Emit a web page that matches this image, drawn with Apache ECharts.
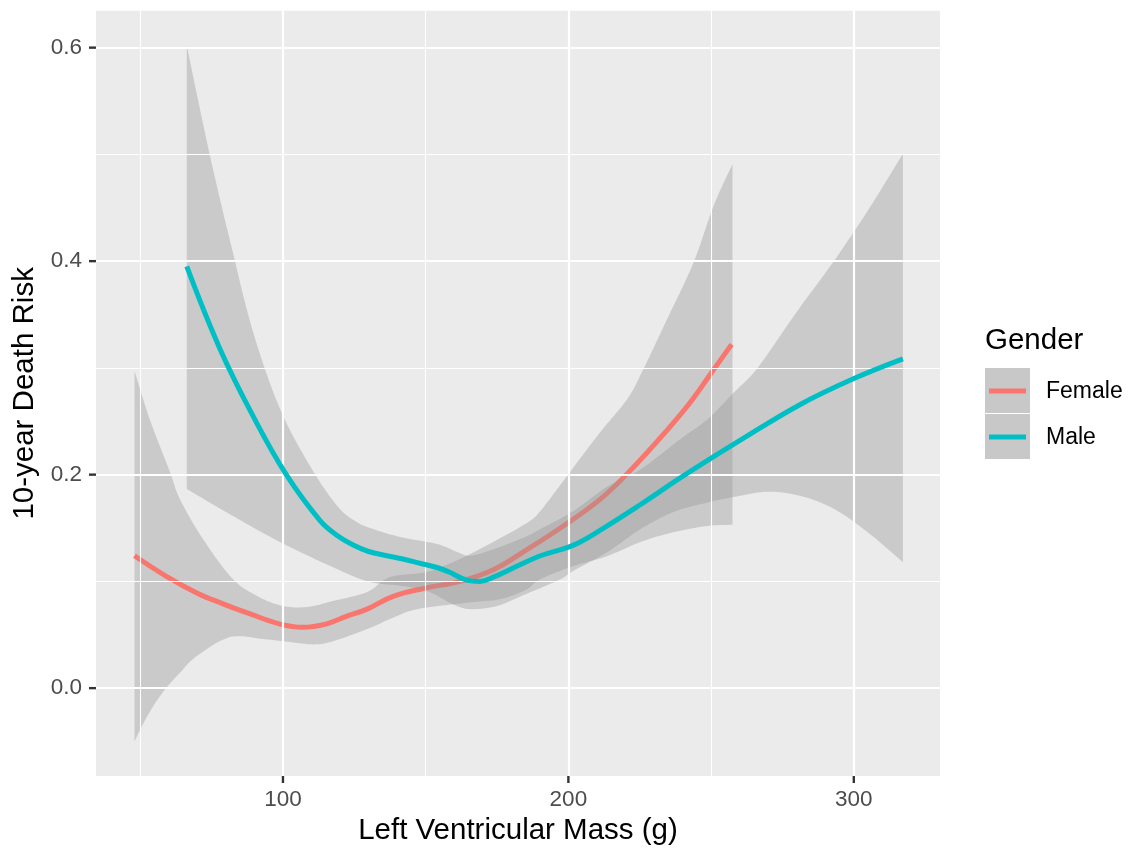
<!DOCTYPE html>
<html><head><meta charset="utf-8">
<script src="https://cdn.jsdelivr.net/npm/echarts@6/dist/echarts.min.js"></script>
<style>html,body{margin:0;padding:0;background:#fff}#c{width:1130px;height:853px}</style>
</head><body><div id="c"></div>
<script>
// ---- data ----
const xTicks = [100, 200, 300];
const xMinor = [50, 150, 250];
const yTicks = [0, 0.2, 0.4, 0.6];
const yMinor = [0.1, 0.3, 0.5];
const groups = ['Female', 'Male'];

const femaleLine = [[48,0.124],[59,0.105],[70,0.089],[79,0.079],[88,0.070],[99,0.060],[107,0.057],[115,0.060],[122,0.067],[129.5,0.074],[138.6,0.086],[150.5,0.094],[162,0.100],[173.7,0.111],[185.6,0.130],[197.2,0.150],[211.2,0.177],[222.8,0.207],[234.7,0.242],[242.8,0.268],[250,0.295],[257.2,0.322]];
const femaleUpper = [[48,0.297],[53.3,0.252],[60.4,0.2025],[63.9,0.177],[71.9,0.140],[82.5,0.102],[91.9,0.085],[100,0.077],[108.4,0.076],[117.5,0.0816],[129.5,0.090],[137.5,0.104],[150.6,0.109],[162,0.121],[173.7,0.137],[185.6,0.155],[190.2,0.166],[199.6,0.199],[211.2,0.240],[220.7,0.271],[226.3,0.299],[235,0.348],[243.9,0.399],[250.9,0.452],[257.5,0.491]];
const femaleLower = [[48,-0.0497],[52.5,-0.026],[57.9,-0.0038],[64.1,0.015],[69.8,0.030],[81.4,0.0478],[93,0.046],[100,0.044],[110.5,0.041],[117.5,0.044],[129.5,0.0553],[137.5,0.0647],[147,0.074],[164.6,0.080],[176.1,0.0834],[185,0.092],[190.2,0.102],[201.8,0.1144],[213.7,0.1238],[225.3,0.137],[236.8,0.146],[248.8,0.152],[257.5,0.153]];

const maleLine = [[66.3,0.395],[77.9,0.318],[89.5,0.255],[101.4,0.199],[113,0.157],[119,0.143],[124.6,0.134],[130,0.128],[136.5,0.124],[142,0.121],[148,0.117],[154,0.113],[158,0.109],[164.6,0.101],[169,0.100],[173.7,0.104],[182.1,0.1144],[190.2,0.124],[201.8,0.134],[211.2,0.148],[225.3,0.172],[240.4,0.199],[260.1,0.232],[281.4,0.266],[300,0.290],[317.2,0.3085]];
const maleUpper = [[66.3,0.602],[74.4,0.499],[82.1,0.412],[89.5,0.334],[98.9,0.262],[109.5,0.208],[118.9,0.171],[125,0.157],[130.5,0.150],[141.1,0.1416],[154,0.135],[161.1,0.1275],[165.6,0.124],[173.7,0.130],[185.6,0.1425],[190.2,0.149],[201.8,0.166],[213.7,0.189],[225.3,0.205],[239.3,0.2335],[248.8,0.252],[257.5,0.2757],[266.3,0.300],[279.6,0.351],[293,0.400],[305.3,0.449],[317.2,0.5007]];
const maleLower = [[66.3,0.1866],[82,0.162],[98.9,0.137],[118.9,0.1116],[130.5,0.0994],[141,0.096],[150.5,0.091],[160,0.078],[166,0.074],[175,0.077],[185,0.088],[197.2,0.102],[201.8,0.110],[213.7,0.1275],[225.3,0.149],[236.8,0.165],[248.8,0.174],[257.9,0.179],[269.8,0.184],[281.4,0.180],[293,0.168],[304.9,0.146],[317.2,0.118]];

// ---- chart ----
const FONT = "'Liberation Sans', Arial, Helvetica, sans-serif";
const colors = {Female: '#F8766D', Male: '#00BFC4'};
const bandFill = 'rgba(153,153,153,0.4)';
const X_MIN = 34.5, X_MAX = 330.2, Y_MIN = -0.0823, Y_MAX = 0.6346;

// Catmull-Rom smoothing of already-projected pixel points (rendering only)
function smoothPx(pts, n) {
  const out = [];
  for (let i = 0; i < pts.length - 1; i++) {
    const p0 = pts[i - 1] || pts[i], p1 = pts[i], p2 = pts[i + 1], p3 = pts[i + 2] || pts[i + 1];
    for (let k = 0; k < n; k++) {
      const t = k / n, t2 = t * t, t3 = t2 * t;
      out.push([0, 1].map(d => 0.5 * ((2 * p1[d]) + (-p0[d] + p2[d]) * t +
        (2 * p0[d] - 5 * p1[d] + 4 * p2[d] - p3[d]) * t2 + (-p0[d] + 3 * p1[d] - 3 * p2[d] + p3[d]) * t3)));
    }
  }
  out.push(pts[pts.length - 1]);
  return out;
}

function bandSeries(upper, lower, z) {
  return {
    type: 'custom', z: z, silent: true, animation: false,
    data: upper.concat(lower),
    renderItem: function (params, api) {
      if (params.dataIndexInside !== 0) return null;
      const up = smoothPx(upper.map(p => api.coord(p)), 10);
      const lo = smoothPx(lower.map(p => api.coord(p)), 10).reverse();
      return {type: 'polygon', shape: {points: up.concat(lo)}, style: {fill: bandFill}};
    }
  };
}
function lineSeries(name, data, z) {
  return {
    name: name, type: 'line', data: data, z: z, smooth: 0.4,
    showSymbol: false, silent: true, animation: false,
    lineStyle: {color: colors[name], width: 5}
  };
}

const gridLines = [].concat(
  xMinor.map(v => ({xAxis: v, lineStyle: {width: 1.1}})),
  xTicks.map(v => ({xAxis: v, lineStyle: {width: 2.2}})),
  yMinor.map(v => ({yAxis: v, lineStyle: {width: 1.1}})),
  yTicks.map(v => ({yAxis: v, lineStyle: {width: 2.2}}))
);

const legendGraphics = [
  {type: 'text', x: 985, y: 341, style: {text: 'Gender', fontSize: 29.5, fontFamily: FONT, fill: '#000', align: 'left', verticalAlign: 'middle'}},
  {type: 'rect', shape: {x: 985, y: 368, width: 45, height: 45}, style: {fill: '#C8C8C8'}},
  {type: 'rect', shape: {x: 985, y: 414, width: 45, height: 45}, style: {fill: '#C8C8C8'}},
  {type: 'line', shape: {x1: 989, y1: 391, x2: 1026, y2: 391}, style: {stroke: colors.Female, lineWidth: 5}},
  {type: 'line', shape: {x1: 989, y1: 437, x2: 1026, y2: 437}, style: {stroke: colors.Male, lineWidth: 5}},
  {type: 'text', x: 1046, y: 392, style: {text: groups[0], fontSize: 23, fontFamily: FONT, fill: '#000', align: 'left', verticalAlign: 'middle'}},
  {type: 'text', x: 1046, y: 438, style: {text: groups[1], fontSize: 23, fontFamily: FONT, fill: '#000', align: 'left', verticalAlign: 'middle'}}
];

const chart = echarts.init(document.getElementById('c'), null, {renderer: 'canvas'});
chart.setOption({
  animation: false,
  textStyle: {fontFamily: FONT},
  grid: {left: 96, top: 10.7, width: 844, height: 765.3, show: true, backgroundColor: '#EBEBEB', borderWidth: 0},
  xAxis: {
    type: 'value', min: X_MIN, max: X_MAX, position: 'bottom',
    name: 'Left Ventricular Mass (g)', nameLocation: 'middle', nameGap: 40,
    nameTextStyle: {fontSize: 29.5, color: '#000', fontFamily: FONT},
    axisLine: {show: false, onZero: false}, splitLine: {show: false}, axisTick: {show: false},
    axisLabel: {customValues: xTicks, fontSize: 22.5, color: '#4D4D4D', margin: 12, fontFamily: FONT}
  },
  yAxis: {
    type: 'value', min: Y_MIN, max: Y_MAX, position: 'left',
    name: '10-year Death Risk', nameLocation: 'middle', nameGap: 54, nameRotate: 90,
    nameTextStyle: {fontSize: 29.5, color: '#000', fontFamily: FONT},
    axisLine: {show: false, onZero: false}, splitLine: {show: false}, axisTick: {show: false},
    axisLabel: {customValues: yTicks, fontSize: 22.5, color: '#4D4D4D', margin: 14, fontFamily: FONT,
      formatter: v => Number(v).toFixed(1)}
  },
  series: [
    {type: 'line', data: [], z: 1, silent: true,
     markLine: {silent: true, symbol: ['none', 'none'], label: {show: false}, animation: false,
       lineStyle: {color: '#FFFFFF', type: 'solid'}, emphasis: {disabled: true}, data: gridLines}},
    bandSeries(femaleUpper, femaleLower, 2),
    lineSeries('Female', femaleLine, 3),
    bandSeries(maleUpper, maleLower, 4),
    lineSeries('Male', maleLine, 5)
  ],
  graphic: legendGraphics
});

// axis tick marks positioned through the chart's own scales
const TICK = 7;
const bottomPx = chart.convertToPixel({yAxisIndex: 0}, Y_MIN);
const leftPx = chart.convertToPixel({xAxisIndex: 0}, X_MIN);
const tickGraphics = [];
xTicks.forEach(v => {
  const px = chart.convertToPixel({xAxisIndex: 0}, v);
  tickGraphics.push({type: 'line', shape: {x1: px, y1: bottomPx, x2: px, y2: bottomPx + TICK}, style: {stroke: '#333333', lineWidth: 2.4}});
});
yTicks.forEach(v => {
  const py = chart.convertToPixel({yAxisIndex: 0}, v);
  tickGraphics.push({type: 'line', shape: {x1: leftPx - TICK, y1: py, x2: leftPx, y2: py}, style: {stroke: '#333333', lineWidth: 2.4}});
});
chart.setOption({graphic: legendGraphics.concat(tickGraphics)});
</script>
</body></html>
